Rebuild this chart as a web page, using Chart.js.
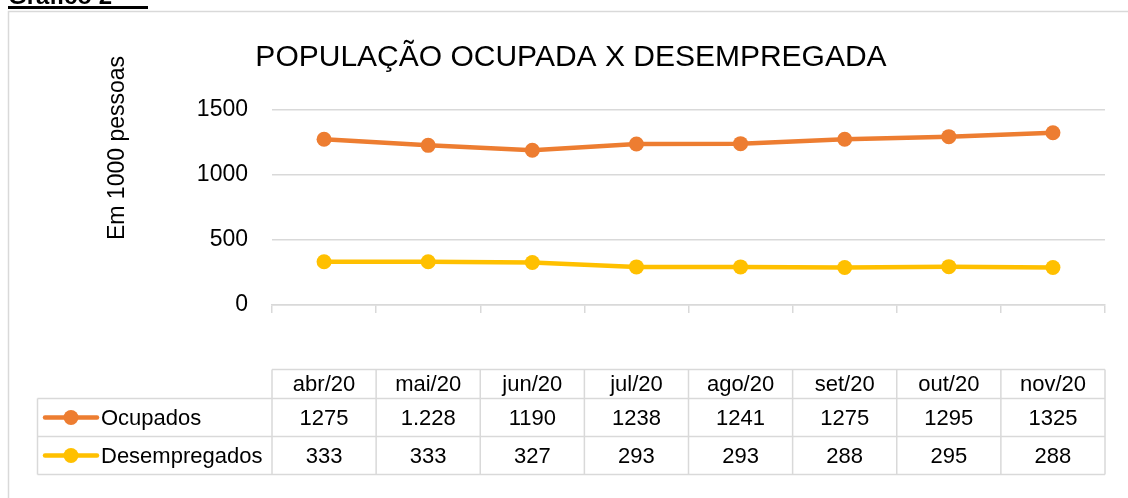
<!DOCTYPE html>
<html>
<head>
<meta charset="utf-8">
<script src="https://cdn.jsdelivr.net/npm/chart.js@4"></script>
<style>
  body { margin: 0; background: #fff; }
  #wrap { width: 1128px; height: 498px; }
</style>
</head>
<body>
<div id="wrap"><canvas id="chart" width="1128" height="498"></canvas></div>
<script>
const meses = ['abr/20', 'mai/20', 'jun/20', 'jul/20', 'ago/20', 'set/20', 'out/20', 'nov/20']
const ocupados = [1275, 1228, 1190, 1238, 1241, 1275, 1295, 1325]
const desempregados = [333, 333, 327, 293, 293, 288, 295, 288]
// how the values appear in the data table under the chart
const ocupadosTabela = ['1275', '1.228', '1190', '1238', '1241', '1275', '1295', '1325']
const desempregadosTabela = ['333', '333', '327', '293', '293', '288', '295', '288']
const yTicks = [0, 500, 1000, 1500]

const LARANJA = '#ED7D31'
const AMARELO = '#FFC000'
const CINZA = '#d9d9d9'
const FONTE = '"Liberation Sans", Arial, sans-serif'

const extras = {
    id: 'extras',
    afterDraw(chart) {
        const c = chart.ctx
        const xs = chart.scales.x
        c.save()

        // moldura do gráfico
        c.strokeStyle = CINZA
        c.lineWidth = 1.5
        c.beginPath()
        c.moveTo(8.5, 498)
        c.lineTo(8.5, 11.5)
        c.lineTo(1128, 11.5)
        c.stroke()

        // "Gráfico 2" cortado no topo
        c.fillStyle = '#000'
        c.font = 'bold 24px ' + FONTE
        c.textBaseline = 'alphabetic'
        c.textAlign = 'left'
        c.fillText('Gráfico 2', 8, 4)
        c.fillRect(8, 6, 140, 3)

        // título
        c.font = '30px ' + FONTE
        c.textAlign = 'center'
        c.fillText('POPULAÇÃO OCUPADA X DESEMPREGADA', 571, 66)

        // título do eixo y
        c.save()
        c.translate(118, 148)
        c.rotate(-Math.PI / 2)
        c.font = '23px ' + FONTE
        c.textBaseline = 'middle'
        c.fillText('Em 1000 pessoas', 0, 0)
        c.restore()

        // tabela de dados
        const w = xs.getPixelForValue(1) - xs.getPixelForValue(0)
        const left = xs.getPixelForValue(0) - w / 2
        const right = xs.getPixelForValue(meses.length - 1) + w / 2
        const rows = [369.5, 398.5, 436.5, 474.5]
        const legL = 37.5

        c.strokeStyle = CINZA
        c.lineWidth = 1.5
        c.beginPath()
        c.moveTo(left, rows[0]); c.lineTo(right, rows[0])
        for (let r = 1; r < rows.length; r++) {
            c.moveTo(legL, rows[r]); c.lineTo(right, rows[r])
        }
        for (let i = 0; i <= meses.length; i++) {
            const x = left + i * w
            c.moveTo(x, rows[0]); c.lineTo(x, rows[3])
        }
        c.moveTo(legL, rows[1]); c.lineTo(legL, rows[3])
        c.stroke()

        c.fillStyle = '#000'
        c.font = '22px ' + FONTE
        c.textAlign = 'center'
        c.textBaseline = 'middle'
        const linhas = [meses, ocupadosTabela, desempregadosTabela]
        linhas.forEach((vals, r) => {
            const y = (rows[r] + rows[r + 1]) / 2 + 1
            vals.forEach((v, i) => c.fillText(v, xs.getPixelForValue(i), y))
        })

        // chaves da legenda
        const series = [['Ocupados', LARANJA], ['Desempregados', AMARELO]]
        series.forEach(([nome, cor], k) => {
            const y = (rows[k + 1] + rows[k + 2]) / 2
            c.strokeStyle = cor
            c.lineWidth = 4.5
            c.lineCap = 'round'
            c.beginPath(); c.moveTo(45, y); c.lineTo(97, y); c.stroke()
            c.fillStyle = cor
            c.beginPath(); c.arc(71, y, 7.5, 0, Math.PI * 2); c.fill()
            c.fillStyle = '#000'
            c.textAlign = 'left'
            c.font = '22px ' + FONTE
            c.fillText(nome, 101, y + 1)
        })
        c.restore()
    }
}

const ctx = document.getElementById('chart').getContext('2d')

const chart = new Chart(ctx, {
    type: 'line',
    data: {
        labels: meses,
        datasets: [{
            label: 'Ocupados',
            data: ocupados,
            borderColor: LARANJA,
            backgroundColor: LARANJA,
            borderWidth: 4.5,
            pointRadius: 7.5,
            pointBorderWidth: 0,
            tension: 0
        }, {
            label: 'Desempregados',
            data: desempregados,
            borderColor: AMARELO,
            backgroundColor: AMARELO,
            borderWidth: 4.5,
            pointRadius: 7.5,
            pointBorderWidth: 0,
            tension: 0
        }]
    },
    options: {
        responsive: false,
        animation: false,
        layout: { padding: { top: 110, right: 23, left: 0, bottom: 0 } },
        plugins: {
            legend: { display: false },
            title: { display: false },
            tooltip: { enabled: false }
        },
        scales: {
            x: {
                offset: true,
                grid: {
                    offset: true,
                    drawOnChartArea: false,
                    drawTicks: true,
                    tickLength: 8,
                    color: CINZA,
                    lineWidth: 1.5
                },
                border: { display: true, color: CINZA, width: 1.5 },
                ticks: { display: false },
                afterFit(scale) { scale.height = 193 }
            },
            y: {
                min: 0,
                max: 1500,
                afterBuildTicks(scale) { scale.ticks = yTicks.map(v => ({ value: v })) },
                grid: { color: CINZA, lineWidth: 1.5, drawTicks: false },
                border: { display: false },
                ticks: {
                    padding: 24,
                    color: '#000',
                    font: { family: FONTE, size: 23 },
                    callback: v => String(v)
                },
                afterFit(scale) { scale.width = 272 }
            }
        }
    },
    plugins: [extras]
})
</script>
</body>
</html>
